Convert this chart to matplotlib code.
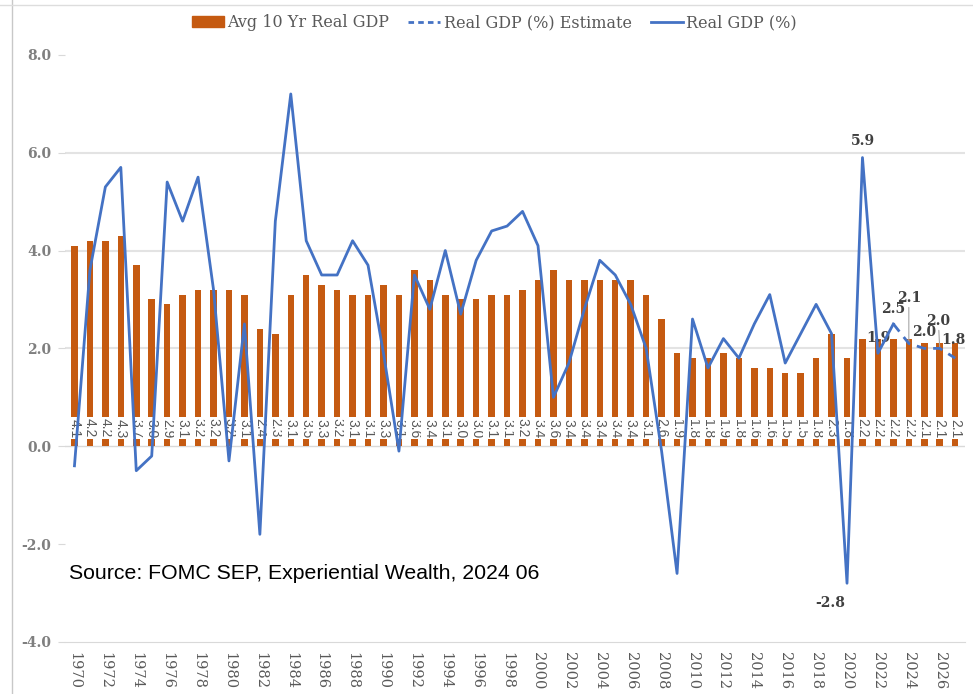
import matplotlib.pyplot as plt
from matplotlib.patches import Patch
from matplotlib.lines import Line2D

# 10年平均(棒)
years = list(range(1970, 2028))
avg_10yr = [4.1, 4.2, 4.2, 4.3, 3.7, 3.0, 2.9, 3.1, 3.2, 3.2,
            3.2, 3.1, 2.4, 2.3, 3.1, 3.5, 3.3, 3.2, 3.1, 3.1,
            3.3, 3.1, 3.6, 3.4, 3.1, 3.0, 3.0, 3.1, 3.1, 3.2,
            3.4, 3.6, 3.4, 3.4, 3.4, 3.4, 3.4, 3.1, 2.6, 1.9,
            1.8, 1.8, 1.9, 1.8, 1.6, 1.6, 1.5, 1.5, 1.8, 2.3,
            1.8, 2.2, 2.2, 2.2, 2.2, 2.1, 2.1, 2.1]

# 実績 (1970-2023)
gdp_years = list(range(1970, 2024))
gdp = [-0.4, 3.6, 5.3, 5.7, -0.5, -0.2, 5.4, 4.6, 5.5, 3.2,
       -0.3, 2.5, -1.8, 4.6, 7.2, 4.2, 3.5, 3.5, 4.2, 3.7,
       1.9, -0.1, 3.5, 2.8, 4.0, 2.7, 3.8, 4.4, 4.5, 4.8,
       4.1, 1.0, 1.7, 2.8, 3.8, 3.5, 2.9, 2.0, -0.1, -2.6,
       2.6, 1.6, 2.2, 1.8, 2.5, 3.1, 1.7, 2.3, 2.9, 2.3,
       -2.8, 5.9, 1.9, 2.5]

# FOMC見通し (2023-2027)
est_years = [2023, 2024, 2025, 2026, 2027]
est = [2.5, 2.1, 2.0, 2.0, 1.8]

x_ticks = list(range(1970, 2027, 2))
y_ticks = [-4, -2, 0, 2, 4, 6, 8]

orange = '#C55A11'
blue = '#4472C4'
gray = '#595959'
serif = 'DejaVu Serif'

fig = plt.figure(figsize=(9.73, 6.94), dpi=100)
ax = fig.add_axes([0.067, 0.075, 0.925, 0.846])

for g in [2, 4, 6]:
    ax.axhline(g, color='#E3E3E3', lw=1.5, zorder=0)
ax.axhline(0, color='#D9D9D9', lw=1.0, zorder=1)

ax.bar(years, avg_10yr, width=0.42, color=orange, zorder=2)
for yr, v in zip(years, avg_10yr):
    ax.text(yr, 0.37, f'{v:.1f}', rotation=270, ha='center', va='center',
            fontsize=10, color=gray, family='Liberation Sans', zorder=3,
            bbox=dict(boxstyle='square,pad=0.1', fc='white', ec='none'))

ax.plot(gdp_years, gdp, color=blue, lw=2.0, zorder=4)
ax.plot(est_years, est, color=blue, lw=2.0, ls=(0, (3.5, 2.5)), zorder=4)

# データラベル
lab_font = dict(fontsize=10, color='#404040', family=serif,
                fontweight='bold', ha='center', va='center')
leader = dict(arrowstyle='-', color='#A6A6A6', lw=0.8, shrinkA=0, shrinkB=0)
ax.annotate('-2.8', (2020, -2.8), xytext=(-12, -14), textcoords='offset points', **lab_font)
ax.annotate('5.9', (2021, 5.9), xytext=(0, 12), textcoords='offset points', **lab_font)
ax.annotate('1.9', (2022, 1.9), xytext=(0, 11), textcoords='offset points', **lab_font)
ax.annotate('2.5', (2023, 2.5), xytext=(0, 11), textcoords='offset points', **lab_font)
ax.annotate('2.1', (2024, 2.1), xytext=(0, 33), textcoords='offset points',
            arrowprops=leader, **lab_font)
ax.annotate('2.0', (2025, 2.0), xytext=(0, 11.5), textcoords='offset points', **lab_font)
ax.annotate('2.0', (2026, 2.0), xytext=(-1, 20), textcoords='offset points',
            arrowprops=leader, **lab_font)
ax.annotate('1.8', (2027, 1.8), xytext=(-1, 13), textcoords='offset points', **lab_font)

ax.set_xlim(1969.4, 2027.65)
ax.set_ylim(-4, 8)
ax.set_xticks(x_ticks)
ax.set_xticklabels([str(t) for t in x_ticks], rotation=270, family=serif,
                   fontsize=10.5, color=gray)
ax.set_yticks(y_ticks)
ax.set_yticklabels([f'{t:.1f}' for t in y_ticks], family=serif,
                   fontweight='bold', fontsize=10, color='#7F7F7F')
ax.tick_params(axis='x', length=0, pad=7)
ax.tick_params(axis='y', length=5, color='#D9D9D9', pad=5)
for s in ['top', 'right', 'left']:
    ax.spines[s].set_visible(False)
ax.spines['bottom'].set_color('#D9D9D9')

ax.text(1969.65, -2.6, 'Source: FOMC SEP, Experiential Wealth, 2024 06',
        fontsize=15.3, family='Liberation Sans', color='black', va='center')

handles = [Patch(color=orange, label='Avg 10 Yr Real GDP'),
           Line2D([], [], color=blue, lw=2.0, ls=(0, (2, 1.5)), label='Real GDP (%) Estimate'),
           Line2D([], [], color=blue, lw=2.0, label='Real GDP (%)')]
fig.legend(handles=handles, loc='center', bbox_to_anchor=(0.508, 0.967), ncol=3,
           frameon=False, prop={'family': serif, 'size': 11.5},
           labelcolor=gray, handlelength=2.0, handletextpad=0.2, columnspacing=1.2)

# 画面キャプチャの枠線
fig.add_artist(Line2D([12 / 973, 12 / 973], [0, 1], color='#C8C8C8', lw=1))
fig.add_artist(Line2D([0, 1], [1 - 5 / 694, 1 - 5 / 694], color='#DDDDDD', lw=1))

fig.savefig('out.png', dpi=100)
